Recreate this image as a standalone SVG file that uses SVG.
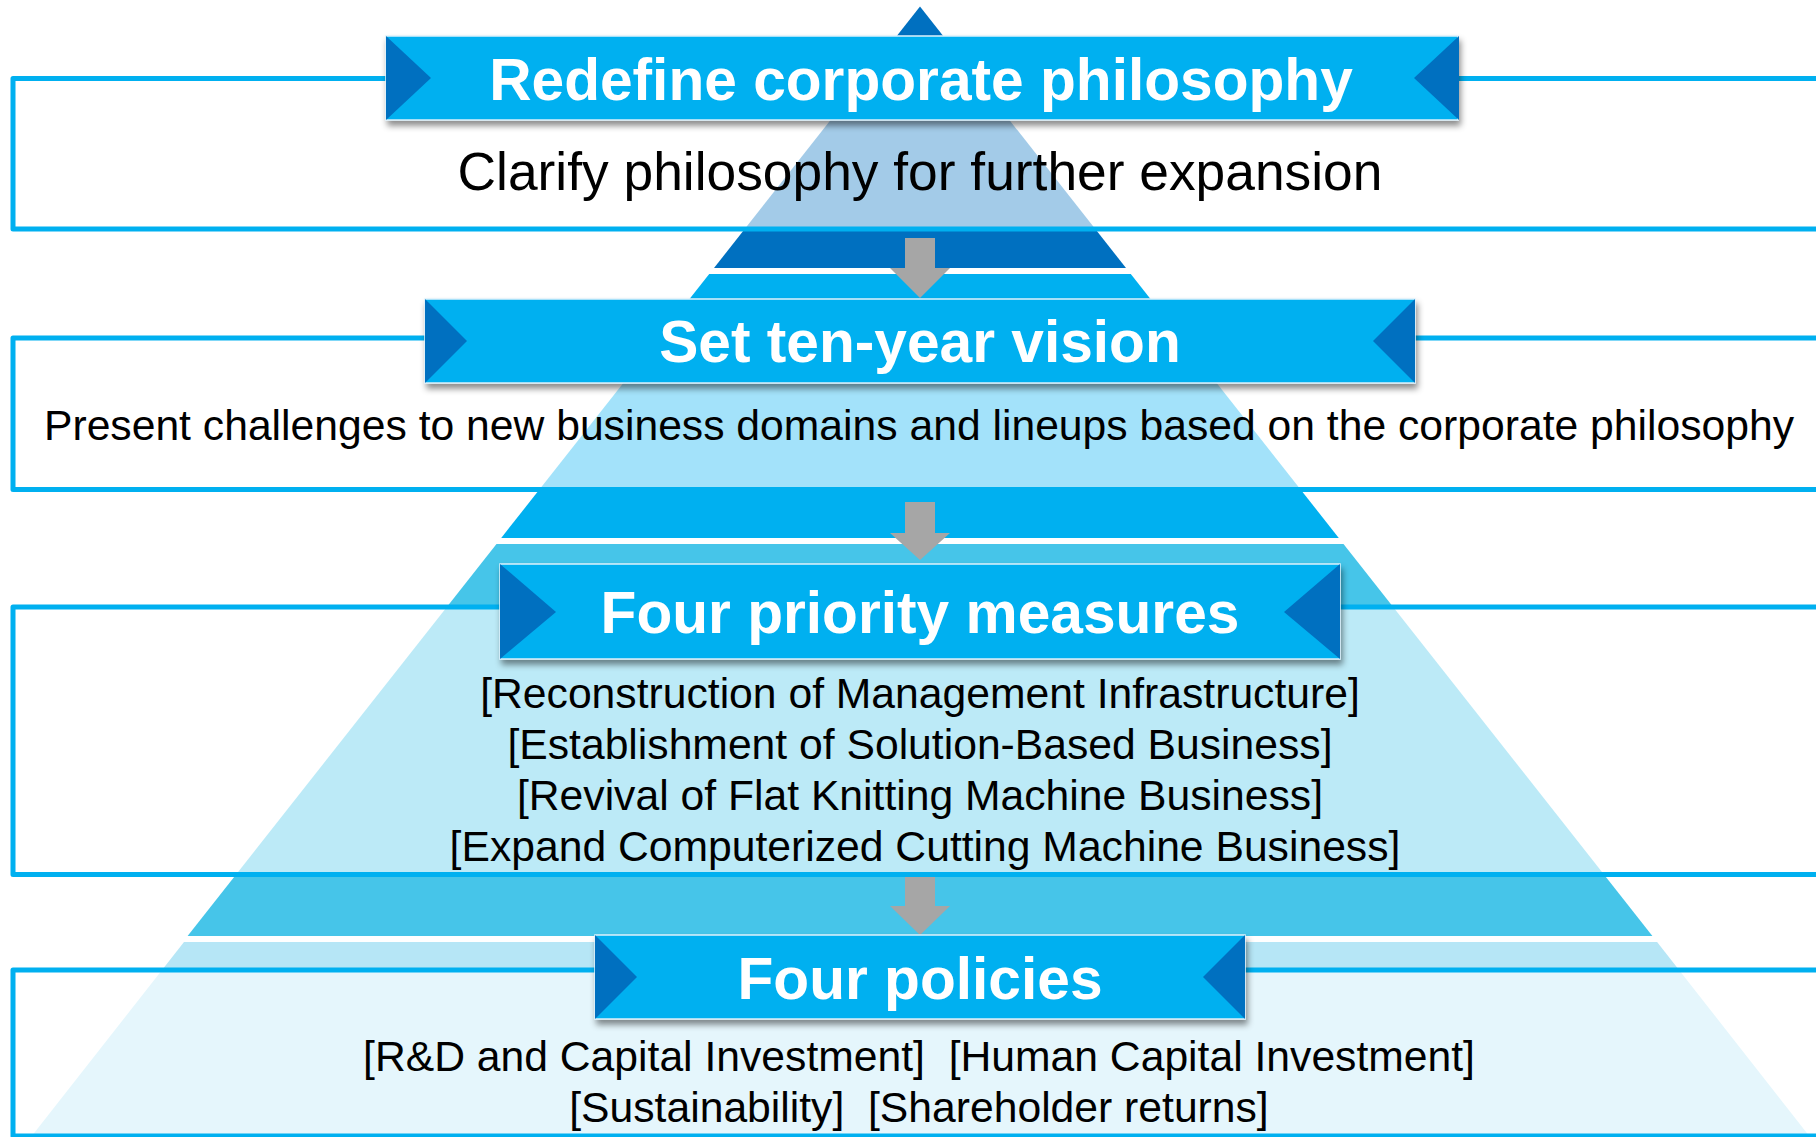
<svg xmlns="http://www.w3.org/2000/svg" width="1816" height="1137" viewBox="0 0 1816 1137">
  <defs>
    <filter id="shadow" x="-5%" y="-20%" width="115%" height="150%">
      <feDropShadow dx="2" dy="5" stdDeviation="3" flood-color="#000" flood-opacity="0.45"/>
    </filter>
  </defs>
  <style>
    .panel-fill { fill: #ffffff; fill-opacity: 0.64; stroke: none; }
    .panel-line { fill: none; stroke: #00B0F0; stroke-width: 5; stroke-linejoin: round; stroke-linecap: butt; }
    .banner { fill: #00B0F0; stroke: #DDF1FB; stroke-width: 1.5; filter: url(#shadow); }
    .notch { fill: #0070C0; }
    .title { font-family: "Liberation Sans", Arial, sans-serif; font-weight: bold; font-size: 58.67px; fill: #ffffff; text-anchor: middle; }
    .desc { font-family: "Liberation Sans", Arial, sans-serif; font-size: 42.67px; fill: #000000; text-anchor: middle; }
    .desc-lg { font-family: "Liberation Sans", Arial, sans-serif; font-size: 53.33px; fill: #000000; text-anchor: middle; }
    .arrow { fill: #A6A6A6; }
  </style>
  <rect width="1816" height="1137" fill="#ffffff"/>

  <g id="pyramid">
    <polygon points="920,6.5 1126,268 714,268" fill="#0070C0"/>
    <polygon points="709.2,274 1130.8,274 1338.8,538 501.2,538" fill="#00B0F0"/>
    <polygon points="496.5,544 1343.5,544 1652.4,936 187.6,936" fill="#46C5E9"/>
    <polygon points="184,942 1657.1,942 1810,1137 31,1137" fill="#B6E6F6"/>
  </g>

  <g id="connectors">
    <polygon class="arrow" points="905,238 935,238 935,268 950,268 920,298 890,268 905,268"/>
    <polygon class="arrow" points="905,502 935,502 935,533 950,533 920,560 890,533 905,533"/>
    <polygon class="arrow" points="905,877 935,877 935,906 950,906 920,935 890,906 905,906"/>
  </g>

  <g id="node-philosophy">
    <rect class="panel-fill" x="13" y="78.5" width="1810" height="150.5"/>
    <path class="panel-line" d="M1830,78.5 H13 V229 H1830"/>
    <rect class="banner" x="386" y="36" width="1072" height="84"/>
    <polygon class="notch" points="386,36 431,78 386,120"/>
    <polygon class="notch" points="1459,36 1414,78 1459,120"/>
    <text class="title" x="921" y="100">Redefine corporate philosophy</text>
    <text class="desc-lg" x="920" y="190">Clarify philosophy for further expansion</text>
  </g>

  <g id="node-vision">
    <rect class="panel-fill" x="13" y="338" width="1810" height="151.5"/>
    <path class="panel-line" d="M1830,338 H13 V489.5 H1830"/>
    <rect class="banner" x="425" y="299" width="990" height="84"/>
    <polygon class="notch" points="425,299 467,341 425,383"/>
    <polygon class="notch" points="1415,299 1373,341 1415,383"/>
    <text class="title" x="920" y="362">Set ten-year vision</text>
    <text class="desc" x="919" y="440">Present challenges to new business domains and lineups based on the corporate philosophy</text>
  </g>

  <g id="node-measures">
    <rect class="panel-fill" x="13" y="607" width="1810" height="267.5"/>
    <path class="panel-line" d="M1830,607 H13 V874.5 H1830"/>
    <rect class="banner" x="500" y="564" width="840" height="95"/>
    <polygon class="notch" points="500,564 556,612 500,659"/>
    <polygon class="notch" points="1340,564 1284,612 1340,659"/>
    <text class="title" x="920" y="633">Four priority measures</text>
    <text class="desc" x="920" y="708">[Reconstruction of Management Infrastructure]</text>
    <text class="desc" x="920" y="759">[Establishment of Solution-Based Business]</text>
    <text class="desc" x="920" y="810">[Revival of Flat Knitting Machine Business]</text>
    <text class="desc" x="925" y="861">[Expand Computerized Cutting Machine Business]</text>
  </g>

  <g id="node-policies">
    <rect class="panel-fill" x="13" y="970" width="1810" height="166"/>
    <path class="panel-line" d="M1830,970 H13 V1136 H1830"/>
    <rect class="banner" x="595" y="935" width="650" height="84"/>
    <polygon class="notch" points="595,935 637,977 595,1019"/>
    <polygon class="notch" points="1245,935 1203,977 1245,1019"/>
    <text class="title" x="920" y="999">Four policies</text>
    <text class="desc" x="919" y="1071" xml:space="preserve">[R&amp;D and Capital Investment]  [Human Capital Investment]</text>
    <text class="desc" x="919" y="1122" xml:space="preserve">[Sustainability]  [Shareholder returns]</text>
  </g>
</svg>
